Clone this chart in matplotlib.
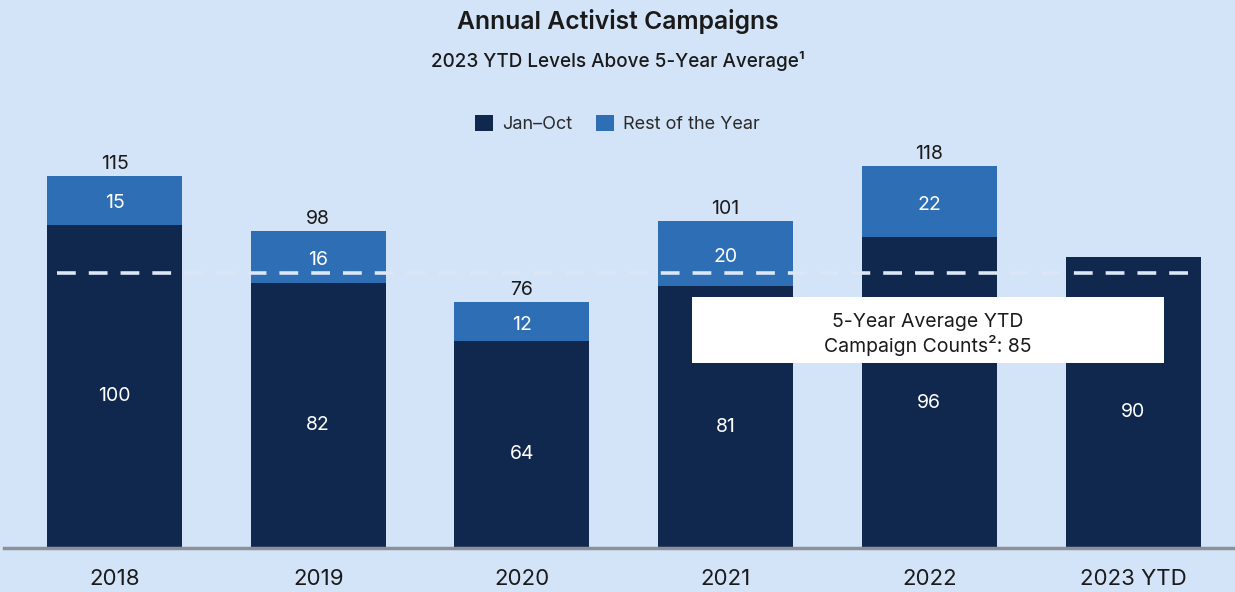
import matplotlib
matplotlib.use("Agg")
import matplotlib.pyplot as plt
from matplotlib.patches import Rectangle, Patch
from matplotlib.lines import Line2D

plt.rcParams['font.family'] = ['Inter', 'DejaVu Sans']

categories = ["2018", "2019", "2020", "2021", "2022", "2023 YTD"]
jan_oct = [100, 82, 64, 81, 96, 90]
rest_of_year = [15, 16, 12, 20, 22, None]
totals = [115, 98, 76, 101, 118, None]
avg_ytd = 85

BG = '#d4e4f8'
DARK = '#11284e'
MID = '#2e6eb5'

fig = plt.figure(figsize=(12.35, 5.92), dpi=100, facecolor=BG)
W, H = 1235, 592
base_px = 548
top_px = 80
ax = fig.add_axes([0, (H - base_px) / H, 1, (base_px - top_px) / H])
ax.set_facecolor(BG)
scale = 3.235
spacing = 203.7
x0 = 114.5
ax.set_xlim(-x0 / spacing, (W - x0) / spacing)
ax.set_ylim(0, (base_px - top_px) / scale)
for s in ax.spines.values():
    s.set_visible(False)
ax.set_yticks([])
ax.set_xticks([])

xs = list(range(len(categories)))
width = 135 / spacing
ax.bar(xs, jan_oct, width=width, color=DARK, zorder=2)
rx = [x for x, r in zip(xs, rest_of_year) if r is not None]
rv = [r for r in rest_of_year if r is not None]
rb = [j for j, r in zip(jan_oct, rest_of_year) if r is not None]
ax.bar(rx, rv, bottom=rb, width=width, color=MID, zorder=2)

# dashed average line
ax.plot([(57 - x0) / spacing, (1200 - x0) / spacing], [avg_ytd, avg_ytd],
        color='#dbe6f6', lw=2.6, dashes=(5.2, 3.6), zorder=3)

for x, j, r, t in zip(xs, jan_oct, rest_of_year, totals):
    ax.annotate(str(j), (x, j / 2), xytext=(0, -10), textcoords='offset pixels',
                ha='center', va='center', color='white', fontsize=14, zorder=5)
    if r is not None:
        ax.annotate(str(r), (x, j + r / 2), xytext=(0, -3), textcoords='offset pixels',
                    ha='center', va='center', color='white', fontsize=14, zorder=5)
        ax.annotate(str(t), (x, t), xytext=(0, 12), textcoords='offset pixels',
                    ha='center', va='center', color='#1a1a1a', fontsize=14, zorder=5)

# annotation box
bx0 = (692 - x0) / spacing
bx1 = (1164 - x0) / spacing
by0 = (base_px - 363) / scale
by1 = (base_px - 297) / scale
ax.add_patch(Rectangle((bx0, by0), bx1 - bx0, by1 - by0, facecolor='white',
                       edgecolor='none', zorder=6))
ax.text((bx0 + bx1) / 2, (by0 + by1) / 2 - 1.35, f"5-Year Average YTD\nCampaign Counts²: {avg_ytd}",
        ha='center', va='center', fontsize=14, color='#1a1a1a', zorder=7,
        linespacing=1.2)

# x labels
for x, c in zip(xs, categories):
    ax.text(x, -(579 - base_px) / scale, c, ha='center', va='center',
            fontsize=16, color='#1a1a1a', clip_on=False)

# baseline
fig.add_artist(Line2D([4 / W, 1], [(H - base_px) / H] * 2, color='#8c9099', lw=2.5,
                      transform=fig.transFigure))

fig.text(0.5, 1 - 22 / H, "Annual Activist Campaigns", ha='center', va='center',
         fontsize=17.8, fontweight='semibold', color='#1a1a1a')
fig.text(0.5, 1 - 61 / H, "2023 YTD Levels Above 5-Year Average¹", ha='center', va='center',
         fontsize=13.6, fontweight='medium', color='#1a1a1a')

handles = [Patch(facecolor=DARK, label='Jan–Oct'), Patch(facecolor=MID, label='Rest of the Year')]
fig.legend(handles=handles, loc='center', bbox_to_anchor=(0.5, 1 - 124 / H), ncol=2,
           frameon=False, fontsize=13, handlelength=1.0, handleheight=1.0,
           handletextpad=0.5, columnspacing=1.3, labelcolor='#2a2a2a')

fig.savefig('out.png', dpi=100, facecolor=BG)
